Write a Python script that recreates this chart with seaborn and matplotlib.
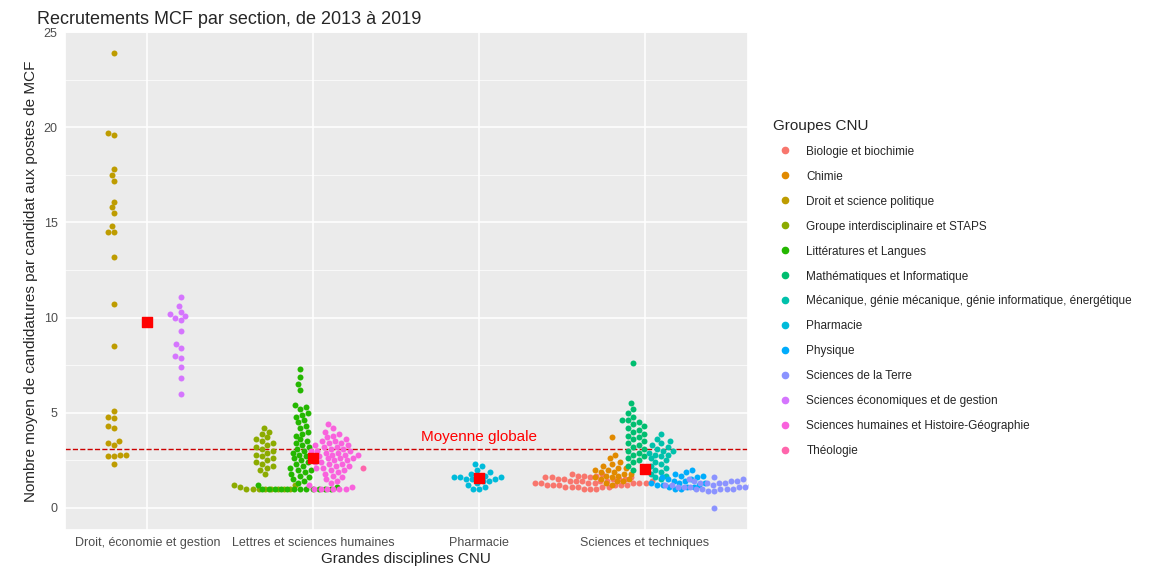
import pandas as pd
import seaborn as sns
import matplotlib.pyplot as plt
from matplotlib.lines import Line2D
from matplotlib.ticker import MultipleLocator

disciplines = ["Droit, économie et gestion", "Lettres et sciences humaines", "Pharmacie", "Sciences et techniques"]
groupes = ["Biologie et biochimie", "Chimie", "Droit et science politique", "Groupe interdisciplinaire et STAPS",
           "Littératures et Langues", "Mathématiques et Informatique",
           "Mécanique, génie mécanique, génie informatique, énergétique", "Pharmacie", "Physique",
           "Sciences de la Terre", "Sciences économiques et de gestion",
           "Sciences humaines et Histoire-Géographie", "Théologie"]
couleurs = ["#F8766D", "#E18A00", "#BE9C00", "#8CAB00", "#24B700", "#00BE70", "#00C1AB",
            "#00BBDA", "#00ACFC", "#8B93FF", "#D575FE", "#F962DD", "#FF65AC"]

droit_sp = [23.9, 19.7, 19.6, 17.8, 17.5, 17.2, 16.1, 15.8, 15.5, 14.8, 14.5, 14.5, 13.2, 10.7, 8.5,
            5.1, 4.8, 4.7, 4.3, 4.2, 3.5, 3.4, 3.3, 2.8, 2.8, 2.7, 2.7, 2.3]
eco = [11.1, 10.6, 10.3, 10.2, 10.1, 10.0, 9.9, 9.3, 8.6, 8.4, 8.0, 7.9, 7.4, 6.8, 6.0]
groupe_inter = [4.2, 4.0, 3.9, 3.7, 3.6, 3.5, 3.4, 3.3, 3.2, 3.1, 3.0, 2.9, 2.8, 2.7, 2.6, 2.5, 2.4,
                2.3, 2.2, 2.1, 2.0, 1.8, 1.2, 1.2, 1.1] + [1.0] * 8
litt = [7.3, 6.9, 6.5, 6.2, 5.4, 5.3, 5.2, 5.0, 4.9, 4.8, 4.6, 4.5, 4.3, 4.2, 4.0, 3.9, 3.8, 3.6, 3.5,
        3.4, 3.3, 3.2, 3.1, 3.0, 2.9, 2.8, 2.7, 2.6, 2.5, 2.4, 2.3, 2.2, 2.1, 2.0, 2.0, 1.9, 1.8, 1.7,
        1.6, 1.5, 1.4, 1.3, 1.2, 1.1] + [1.0] * 12
sh = [4.4, 4.2, 4.0, 3.9, 3.8, 3.7, 3.6, 3.5, 3.5, 3.4, 3.4, 3.3, 3.3, 3.2, 3.2, 3.1, 3.1, 3.0, 3.0,
      3.0, 2.9, 2.9, 2.8, 2.8, 2.8, 2.7, 2.7, 2.6, 2.6, 2.6, 2.5, 2.5, 2.4, 2.4, 2.3, 2.3, 2.2, 2.2,
      2.1, 2.1, 2.0, 2.0, 1.9, 1.8, 1.7, 1.6, 1.5, 1.4, 1.3, 1.2, 1.1] + [1.0] * 6
theologie = [2.1]
pharma = [2.3, 2.2, 2.0, 1.9, 1.8, 1.7, 1.7, 1.6, 1.6, 1.6, 1.5, 1.5, 1.5, 1.4, 1.4, 1.3, 1.2, 1.1, 1.0, 1.0]
bio = [1.8, 1.8, 1.7, 1.7, 1.7, 1.6, 1.6, 1.6, 1.6, 1.5, 1.5, 1.5, 1.5, 1.5, 1.4, 1.4, 1.4, 1.4, 1.4,
       1.4, 1.3, 1.3, 1.3, 1.3, 1.3, 1.3, 1.3, 1.2, 1.2, 1.2, 1.2, 1.2, 1.2, 1.1, 1.1, 1.1, 1.1, 1.1,
       1.0, 1.0, 1.0]
chimie = [3.7, 2.8, 2.6, 2.4, 2.3, 2.2, 2.1, 2.1, 2.0, 2.0, 1.9, 1.9, 1.8, 1.8, 1.7, 1.7, 1.6, 1.6,
          1.5, 1.5, 1.4, 1.4, 1.3, 1.2]
maths = [7.6, 5.5, 5.2, 5.0, 4.8, 4.6, 4.6, 4.5, 4.4, 4.3, 4.2, 4.1, 4.0, 3.9, 3.8, 3.7, 3.6, 3.5,
         3.4, 3.3, 3.2, 3.1, 3.0, 2.9, 2.8, 2.7, 2.6, 2.5, 2.4, 2.2, 2.0]
meca = [3.9, 3.6, 3.5, 3.4, 3.3, 3.2, 3.1, 3.0, 3.0, 2.9, 2.8, 2.8, 2.7, 2.6, 2.5, 2.4, 2.3, 2.2, 2.1,
        2.0, 1.9, 1.8, 1.7, 1.6, 1.5]
physique = [2.0, 1.9, 1.8, 1.7, 1.7, 1.6, 1.6, 1.5, 1.5, 1.4, 1.4, 1.3, 1.3, 1.3, 1.2, 1.2, 1.2, 1.1,
            1.1, 1.1, 1.0, 1.0]
terre = [1.6, 1.5, 1.5, 1.4, 1.4, 1.4, 1.3, 1.3, 1.3, 1.3, 1.2, 1.2, 1.2, 1.2, 1.2, 1.1, 1.1, 1.1,
         1.1, 1.1, 1.0, 1.0, 1.0, 1.0, 1.0, 0.9, 0.9, 0.0]

# (discipline, groupe, valeurs, décalage horizontal)
series = [
    (0, "Droit et science politique", droit_sp, -0.2),
    (0, "Sciences économiques et de gestion", eco, 0.2),
    (1, "Groupe interdisciplinaire et STAPS", groupe_inter, -0.29),
    (1, "Littératures et Langues", litt, -0.08),
    (1, "Sciences humaines et Histoire-Géographie", sh, 0.12),
    (1, "Théologie", theologie, 0.3),
    (2, "Pharmacie", pharma, 0.0),
    (3, "Biologie et biochimie", bio, -0.33),
    (3, "Chimie", chimie, -0.2),
    (3, "Mathématiques et Informatique", maths, -0.07),
    (3, "Mécanique, génie mécanique, génie informatique, énergétique", meca, 0.1),
    (3, "Physique", physique, 0.22),
    (3, "Sciences de la Terre", terre, 0.42),
]

rows = []
for d, g, vals, off in series:
    for v in vals:
        rows.append({"disc": d, "groupe": g, "x": d + off, "valeur": v})
df = pd.DataFrame(rows)

sns.set_theme(style="darkgrid", rc={"axes.facecolor": "#EBEBEB", "grid.color": "white"})
plt.rcParams['font.family'] = ['Liberation Sans', 'DejaVu Sans']

fig = plt.figure(figsize=(11.52, 5.76), dpi=100)
ax = fig.add_axes([0.056, 0.08, 0.593, 0.864])
pal = dict(zip(groupes, couleurs))

for g in df["groupe"].unique():
    sub = df[df["groupe"] == g]
    sns.swarmplot(data=sub, x="x", y="valeur", native_scale=True, color=pal[g], size=4.3, ax=ax)

moyennes = df.groupby("disc")["valeur"].mean()
ax.scatter(moyennes.index, moyennes.values, marker="s", s=50, color="red", zorder=5)
moy_globale = df["valeur"].mean()
ax.axhline(moy_globale, color="#CC0000", ls="--", lw=1)
ax.text(2.0, moy_globale + 0.25, "Moyenne globale", color="red", ha="center", va="bottom", fontsize=11)

ax.set_xlim(-0.5, 3.62)
ax.set_ylim(-1.16, 25)
ax.set_xticks(range(4))
ax.set_xticklabels(disciplines, fontsize=9, color="#4D4D4D")
ax.set_yticks([0, 5, 10, 15, 20, 25])
ax.set_yticklabels(["0", "5", "10", "15", "20", "25"], fontsize=9, color="#4D4D4D")
ax.yaxis.set_minor_locator(MultipleLocator(2.5))
ax.grid(which="minor", axis="y", color="white", lw=0.5)
ax.grid(which="major", color="white", lw=1.1)
ax.set_xlabel("Grandes disciplines CNU", fontsize=11, labelpad=2)
ax.set_ylabel("Nombre moyen de candidatures par candidat aux postes de MCF", fontsize=11)
ax.tick_params(length=3, pad=2)
ax.set_title("Recrutements MCF par section, de 2013 à 2019", loc="left", fontsize=13, x=-0.04)

handles = [Line2D([], [], marker="o", ls="", color=c, markersize=4.5) for c in couleurs]
fig.legend(handles, groupes, title="Groupes CNU", loc="center left", bbox_to_anchor=(0.662, 0.5),
           frameon=False, fontsize=8.5, title_fontsize=11, alignment="left", handletextpad=0.8,
           labelspacing=1.1)

plt.savefig("out.png", dpi=100)
